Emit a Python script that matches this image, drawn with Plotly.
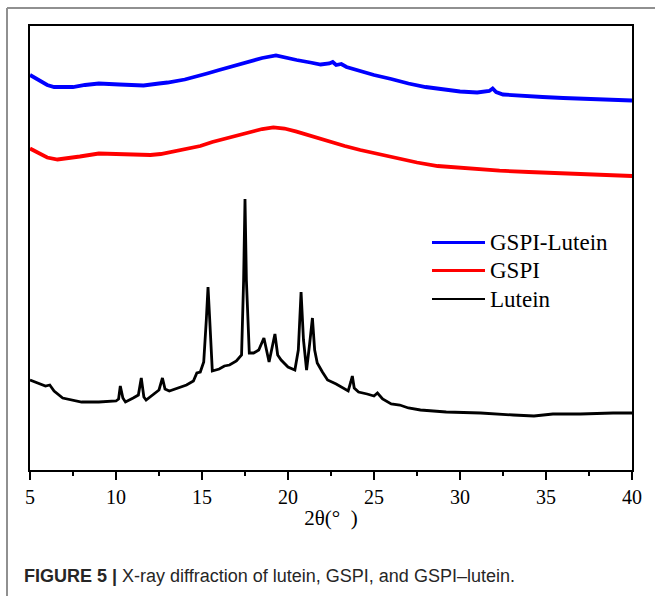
import plotly.graph_objects as go

# ---- data (2θ in degrees, intensity in a.u.) ----
two_theta_complex = [5.0, 5.5, 6.0, 6.4, 7.0, 7.5, 8.2, 9.0, 10.2, 11.0, 11.6, 12.5, 13.0, 14.0,
                     14.5, 15.3, 16.0, 16.8, 17.6, 18.5, 19.3, 19.8, 20.5, 21.3, 21.9, 22.4, 22.6,
                     22.8, 23.1, 23.4, 24.2, 25.0, 26.0, 27.0, 28.0, 29.0, 30.0, 31.0, 31.7, 31.9,
                     32.1, 32.5, 33.5, 34.8, 36.0, 37.2, 38.5, 40.0]
intensity_complex = [395, 390, 385, 383, 382.5, 383, 385, 386.5, 385.5, 385, 384.5, 386.5, 387.5, 390.5,
                     392.5, 396.5, 400, 404, 408, 412, 414.5, 413, 410, 407.5, 405.5, 406.5, 408,
                     405, 406, 403, 399, 395, 391, 386.5, 383, 380.5, 378.5, 377.5, 379, 381.5,
                     378, 375.5, 374, 373, 372, 371.3, 370.5, 369.5]

two_theta_gspi = [5.0, 5.5, 6.0, 6.6, 7.2, 7.9, 9.0, 10.0, 10.6, 11.5, 12.0, 12.6, 13.3, 14.0,
                  14.9, 15.6, 16.4, 17.1, 17.8, 18.5, 19.15, 19.8, 20.5, 21.2, 21.9, 22.5, 23.3,
                  24.2, 25.0, 26.3, 27.5, 28.7, 30.0, 31.0, 32.3, 34.0, 36.0, 38.0, 40.0]
intensity_gspi = [321.5, 317, 312.5, 310.5, 311.5, 313.5, 316.5, 316, 315.5, 315, 315, 316, 318.5, 321,
                  324, 328, 331.7, 335, 338.3, 341, 342.7, 341.5, 338.3, 334.5, 330.7, 328, 324,
                  320, 317, 312, 307.5, 304, 302, 300.5, 299.3, 298, 296.7, 295.5, 294]

two_theta_lutein = [5.0, 5.5, 5.9, 6.15, 6.4, 6.9, 7.5, 8.0, 9.0, 10.0, 10.15, 10.25, 10.4, 10.55,
                    11.0, 11.3, 11.47, 11.62, 11.75, 12.3, 12.5, 12.7, 12.85, 13.1, 13.6, 14.1, 14.5,
                    14.7, 14.9, 15.1, 15.25, 15.35, 15.45, 15.6, 16.0, 16.3, 16.6, 17.0, 17.3, 17.42,
                    17.5, 17.58, 17.75, 18.0, 18.3, 18.6, 18.9, 19.05, 19.24, 19.4, 19.6, 20.0, 20.4,
                    20.6, 20.76, 20.9, 21.08, 21.25, 21.42, 21.55, 21.7, 22.0, 22.3, 22.8, 23.2, 23.5,
                    23.65, 23.74, 23.85, 24.1, 24.6, 25.0, 25.2, 25.5, 26.0, 26.5, 27.0, 27.7, 29.2,
                    31.2, 33.1, 34.3, 35.4, 37.0, 38.9, 40.0]
intensity_lutein = [90, 87, 84, 85, 79, 72, 70, 68, 68, 69, 71, 84, 72, 68,
                    72, 75, 92, 73, 70, 77, 80, 92, 81, 79, 82, 85, 89,
                    97, 98, 108, 150, 183, 150, 99, 101, 104, 105, 109, 115, 190,
                    271, 190, 117, 117, 120, 132, 108, 120, 136, 115, 110, 103, 100,
                    120, 178, 130, 100, 125, 152, 120, 107, 98, 90, 86, 82, 79,
                    88, 94, 82, 78, 76, 74, 77, 71, 66, 65, 62, 60, 58,
                    57, 55, 54, 56, 56, 57, 57]

series_names = ["GSPI-Lutein", "GSPI", "Lutein"]
series_colors = ["#0000ff", "#ff0000", "#000000"]

x_ticks = [5, 10, 15, 20, 25, 30, 35, 40]

fig = go.Figure()
fig.add_trace(go.Scatter(x=two_theta_complex, y=intensity_complex, mode="lines",
                         name=series_names[0], line=dict(color=series_colors[0], width=3.8)))
fig.add_trace(go.Scatter(x=two_theta_gspi, y=intensity_gspi, mode="lines",
                         name=series_names[1], line=dict(color=series_colors[1], width=3.8)))
fig.add_trace(go.Scatter(x=two_theta_lutein, y=intensity_lutein, mode="lines",
                         name=series_names[2], line=dict(color=series_colors[2], width=2.8)))

serif = "Liberation Serif, Times New Roman, serif"

# plot area spans 30..632 px horizontally, 26..470 px vertically
W, H = 655, 596
L, R, T, B = 30, 23, 26, 126
pw, ph = W - L - R, H - T - B


def px(xp):
    return (xp - L) / pw


def py(yp):
    return (H - B - yp) / ph


shapes = []
annotations = []
# outer figure frame (top and left lines)
shapes.append(dict(type="line", xref="paper", yref="paper", x0=px(7), x1=px(660), y0=py(8), y1=py(8),
                   line=dict(color="#909090", width=2)))
shapes.append(dict(type="line", xref="paper", yref="paper", x0=px(7), x1=px(7), y0=py(8), y1=py(600),
                   line=dict(color="#909090", width=2)))

# manual legend
legend_rows = [242.5, 270.5, 299]
legend_widths = [3, 3, 2.2]
for name, col, yy, lw in zip(series_names, series_colors, legend_rows, legend_widths):
    shapes.append(dict(type="line", xref="paper", yref="paper", x0=px(432), x1=px(485),
                       y0=py(yy), y1=py(yy), line=dict(color=col, width=lw)))
    annotations.append(dict(xref="paper", yref="paper", x=px(488), y=py(yy), text=name,
                            showarrow=False, xanchor="left", yanchor="middle",
                            font=dict(family=serif, size=23, color="#000")))

# caption
annotations.append(dict(xref="paper", yref="paper", x=px(22), y=py(576),
                        text="<b>FIGURE 5 |</b> X-ray diffraction of lutein, GSPI, and GSPI–lutein.",
                        showarrow=False, xanchor="left", yanchor="middle",
                        font=dict(family="Liberation Sans, Arial, sans-serif", size=18, color="#262626")))

fig.update_layout(
    width=W, height=H, autosize=False,
    margin=dict(l=L, r=R, t=T, b=B, pad=0),
    paper_bgcolor="white", plot_bgcolor="white",
    showlegend=False,
    shapes=shapes,
    annotations=annotations,
    xaxis=dict(range=[5, 40], tickvals=x_ticks, ticktext=[str(v) for v in x_ticks],
               showgrid=False, zeroline=False, showline=True, mirror=True,
               linecolor="black", linewidth=1.6,
               ticks="outside", ticklen=8, tickwidth=1.5, tickcolor="black",
               minor=dict(dtick=2.5, ticks="outside", ticklen=4, tickwidth=1.5, tickcolor="black",
                          showgrid=False),
               tickfont=dict(family=serif, size=20, color="black"),
               title=dict(text="2θ(°  )", font=dict(family=serif, size=21, color="black"), standoff=4)),
    yaxis=dict(range=[0, 444], showgrid=False, zeroline=False, showline=True, mirror=True,
               linecolor="black", linewidth=1.6, showticklabels=False, ticks=""),
)

fig.write_html("out.html")
